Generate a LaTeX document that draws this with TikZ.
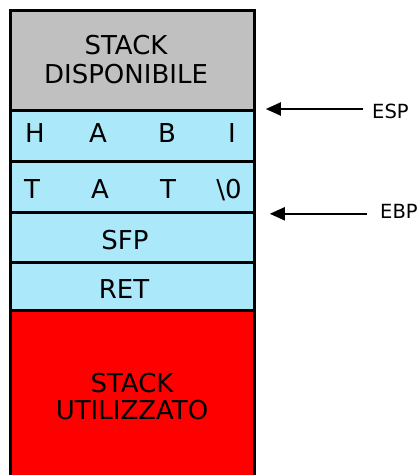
\documentclass[tikz,border=0pt]{standalone}
\usepackage{fontspec}
\setmainfont{DejaVu Sans}
\usetikzlibrary{arrows.meta}
\definecolor{availgray}{HTML}{C0C0C0}
\definecolor{cellblue}{HTML}{AAE8FA}
\definecolor{usedred}{HTML}{FF0000}
\tikzset{
  cell/.style={draw=black, line width=2.8pt, anchor=north west, inner sep=0pt, minimum width=244pt},
  big/.style={font=\fontsize{26}{30}\selectfont, anchor=base, inner sep=0pt},
  reg/.style={font=\fontsize{19.5}{22}\selectfont, anchor=base west, inner sep=0pt},
  ptr/.style={line width=2pt, -{Triangle[length=15pt,width=13pt]}}
}
\begin{document}
\begin{tikzpicture}[x=1pt,y=-1pt]
\useasboundingbox (0,0) rectangle (417,475);
% stack cells, top to bottom
\node[cell, fill=usedred, minimum height=190pt] (used) at (9,309) {};
\node[cell, fill=cellblue, minimum height=48pt] (ret) at (9,261) {};
\node[cell, fill=cellblue, minimum height=50pt] (sfp) at (9,211) {};
\node[cell, fill=cellblue, minimum height=51pt] (tat) at (9,160) {};
\node[cell, fill=cellblue, minimum height=51pt] (habi) at (9,109) {};
\node[cell, fill=availgray, minimum height=100pt] (free) at (9,9) {};
% labels
\node[big] (free1) at (126,54) {STACK};
\node[big] (free2) at (126,83) {DISPONIBILE};
\node[big] (h) at (35,142) {H};
\node[big] (a1) at (98,142) {A};
\node[big] (b) at (167,142) {B};
\node[big] (i) at (232,142) {I};
\node[big] (t1) at (32,198) {T};
\node[big] (a2) at (100,198) {A};
\node[big] (t2) at (168,198) {T};
\node[big] (nul) at (229,198) {\textbackslash 0};
\node[big] (sfpl) at (125,249) {SFP};
\node[big] (retl) at (124,298) {RET};
\node[big] (used1) at (132,392) {STACK};
\node[big] (used2) at (132,419) {UTILIZZATO};
% register pointers
\node[reg] (esp) at (372,118) {ESP};
\node[reg] (ebp) at (380,218) {EBP};
\coordinate (esptip) at ([xshift=10pt]habi.north east);
\coordinate (ebptip) at ([xshift=14pt]tat.south east);
\draw[ptr] ([xshift=-9pt]esp.west |- esptip) -- (esptip);
\draw[ptr] ([xshift=-13pt]ebp.west |- ebptip) -- (ebptip);
\end{tikzpicture}
\end{document}
